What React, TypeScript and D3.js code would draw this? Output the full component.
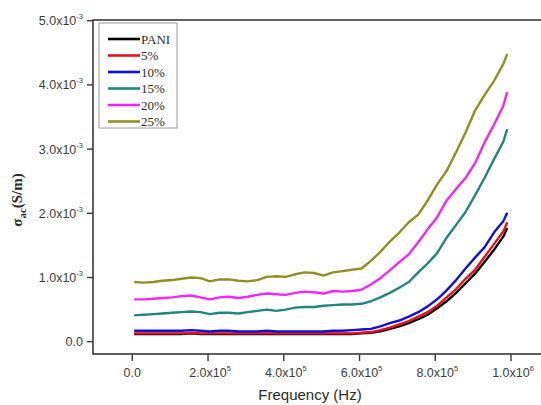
import React from "react";
import * as d3 from "d3";

const freq = [5000, 30000, 55000, 80000, 105000, 130000, 155000, 180000, 205000, 230000, 255000, 280000, 305000, 330000, 355000, 380000, 405000, 430000, 455000, 480000, 505000, 530000, 555000, 580000, 605000, 630000, 655000, 680000, 705000, 730000, 755000, 780000, 805000, 830000, 855000, 880000, 905000, 930000, 955000, 980000, 990000];

// conductivity in units of 1e-3 S/m
const pani = [0.12, 0.12, 0.12, 0.12, 0.12, 0.12, 0.13, 0.12, 0.12, 0.12, 0.12, 0.12, 0.12, 0.12, 0.12, 0.12, 0.12, 0.12, 0.12, 0.12, 0.12, 0.12, 0.12, 0.12, 0.13, 0.14, 0.16, 0.2, 0.24, 0.29, 0.35, 0.42, 0.52, 0.63, 0.76, 0.91, 1.06, 1.24, 1.43, 1.64, 1.77];
const p5 = [0.13, 0.13, 0.13, 0.13, 0.13, 0.13, 0.14, 0.13, 0.13, 0.13, 0.13, 0.13, 0.13, 0.13, 0.13, 0.13, 0.13, 0.13, 0.13, 0.13, 0.13, 0.13, 0.13, 0.13, 0.14, 0.15, 0.18, 0.22, 0.27, 0.32, 0.39, 0.46, 0.56, 0.69, 0.82, 0.98, 1.12, 1.32, 1.52, 1.72, 1.86];
const p10 = [0.17, 0.17, 0.17, 0.17, 0.17, 0.17, 0.18, 0.17, 0.16, 0.17, 0.17, 0.16, 0.16, 0.16, 0.17, 0.16, 0.16, 0.16, 0.16, 0.16, 0.16, 0.17, 0.17, 0.18, 0.19, 0.2, 0.24, 0.29, 0.33, 0.39, 0.46, 0.55, 0.66, 0.8, 0.96, 1.14, 1.31, 1.47, 1.7, 1.88, 2.01];
const p15 = [0.41, 0.42, 0.43, 0.44, 0.45, 0.46, 0.47, 0.46, 0.43, 0.45, 0.45, 0.44, 0.46, 0.48, 0.5, 0.48, 0.5, 0.53, 0.54, 0.54, 0.56, 0.57, 0.58, 0.58, 0.59, 0.63, 0.69, 0.76, 0.84, 0.93, 1.08, 1.22, 1.38, 1.62, 1.82, 2.02, 2.28, 2.55, 2.84, 3.12, 3.31];
const p20 = [0.66, 0.66, 0.67, 0.68, 0.69, 0.71, 0.72, 0.69, 0.66, 0.69, 0.7, 0.68, 0.7, 0.73, 0.75, 0.74, 0.73, 0.76, 0.78, 0.77, 0.75, 0.79, 0.78, 0.79, 0.81, 0.89, 0.99, 1.11, 1.24, 1.36, 1.55, 1.75, 1.94, 2.2, 2.38, 2.55, 2.78, 3.1, 3.38, 3.68, 3.89];
const p25 = [0.93, 0.92, 0.93, 0.95, 0.96, 0.98, 1.0, 0.99, 0.94, 0.97, 0.97, 0.95, 0.94, 0.96, 1.01, 1.02, 1.01, 1.05, 1.08, 1.07, 1.03, 1.08, 1.1, 1.12, 1.14, 1.26, 1.4, 1.56, 1.7, 1.86, 1.98, 2.2, 2.45, 2.66, 2.95, 3.26, 3.6, 3.84, 4.06, 4.33, 4.48];

const seriesNames = ["PANI", "5%", "10%", "15%", "20%", "25%"];
const seriesValues = [pani, p5, p10, p15, p20, p25];
const seriesColors = ["#000000", "#e8101a", "#1010d8", "#23857c", "#f028f0", "#8f8f22"];

const xTicks = [0, 200000, 400000, 600000, 800000, 1000000];
const xTickMant = ["0.0", "2.0", "4.0", "6.0", "8.0", "1.0"];
const xTickExp = ["", "5", "5", "5", "5", "6"];
const yTicks = [0, 1, 2, 3, 4, 5];
const yTickMant = ["0.0", "1.0", "2.0", "3.0", "4.0", "5.0"];
const yTickExp = ["", "-3", "-3", "-3", "-3", "-3"];

export default function App() {
  const W = 541, H = 405;
  const frame = { left: 93, top: 20, right: 546, bottom: 354 };
  const x = d3.scaleLinear().domain([0, 1000000]).range([132.3, 511]);
  const y = d3.scaleLinear().domain([0, 5]).range([341.7, 20.7]);
  const line = d3
    .line<number>()
    .x((_, i) => x(freq[i]))
    .y((d) => y(d));

  const axisColor = "#3a3a3a";
  const labelColor = "#3c3c3c";
  const sans = "'Liberation Sans', Arial, sans-serif";
  const serif = "'Liberation Serif', 'Times New Roman', serif";

  const legend = { x: 99, y: 23, w: 78, h: 105 };

  return (
    <svg width={W} height={H} style={{ position: "absolute", left: 0, top: 0, background: "#fff" }}>
      <rect x={0} y={0} width={W} height={H} fill="#fff" />
      {/* frame */}
      <rect
        x={frame.left}
        y={frame.top}
        width={frame.right - frame.left}
        height={frame.bottom - frame.top}
        fill="none"
        stroke={axisColor}
        strokeWidth={1.6}
      />
      {/* y ticks */}
      {yTicks.map((t, i) => (
        <g key={"y" + i}>
          <line x1={frame.left - 6} x2={frame.left} y1={y(t)} y2={y(t)} stroke={axisColor} strokeWidth={1.4} />
          <text x={frame.left - 10} y={y(t) + 4.5} textAnchor="end" fontFamily={sans} fontSize={12.5} fill={labelColor}>
            {yTickMant[i]}
            {yTickExp[i] ? "x10" : ""}
            {yTickExp[i] ? (
              <tspan dy={-6} fontSize={7.5}>
                {yTickExp[i]}
              </tspan>
            ) : null}
          </text>
        </g>
      ))}
      {/* x ticks */}
      {xTicks.map((t, i) => (
        <g key={"x" + i}>
          <line x1={x(t)} x2={x(t)} y1={frame.bottom} y2={frame.bottom + 7} stroke={axisColor} strokeWidth={1.4} />
          <text x={x(t) + (xTickExp[i] ? 2 : 0)} y={377} textAnchor="middle" fontFamily={sans} fontSize={12.5} fill={labelColor}>
            {xTickMant[i]}
            {xTickExp[i] ? "x10" : ""}
            {xTickExp[i] ? (
              <tspan dy={-6} fontSize={7.5}>
                {xTickExp[i]}
              </tspan>
            ) : null}
          </text>
        </g>
      ))}
      {/* axis titles */}
      <text x={310} y={400} textAnchor="middle" fontFamily={sans} fontSize={15} fill="#2a2a2a">
        Frequency (Hz)
      </text>
      <text
        transform={`translate(22, 200) rotate(-90)`}
        textAnchor="middle"
        fontFamily={serif}
        fontSize={15}
        fontWeight="bold"
        fill="#2a2a2a"
      >
        σ
        <tspan dy={4} fontSize={11}>ac</tspan>
        <tspan dy={-4}>(S/m)</tspan>
      </text>
      {/* series */}
      {seriesValues.map((vals, k) => (
        <path key={"s" + k} d={line(vals) || ""} fill="none" stroke={seriesColors[k]} strokeWidth={2.4} strokeLinejoin="round" />
      ))}
      {/* legend */}
      <rect x={legend.x} y={legend.y} width={legend.w} height={legend.h} fill="#fff" stroke="#9a9a9a" strokeWidth={1} />
      {seriesNames.map((n, k) => {
        const ly = 39 + k * 16.5;
        return (
          <g key={"l" + k}>
            <line x1={108} x2={140} y1={ly} y2={ly} stroke={seriesColors[k]} strokeWidth={2.6} />
            <text x={141} y={ly + 4.5} fontFamily={serif} fontSize={13} fill="#2a2a2a">
              {n}
            </text>
          </g>
        );
      })}
    </svg>
  );
}
